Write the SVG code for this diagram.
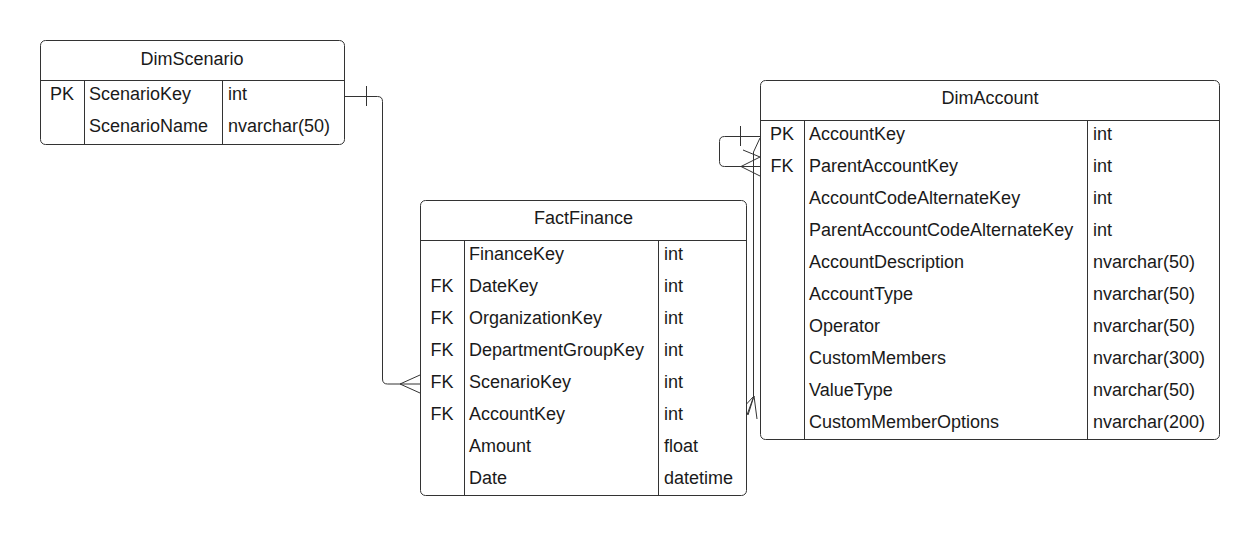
<svg xmlns="http://www.w3.org/2000/svg" width="1260" height="536" viewBox="0 0 1260 536">
<style>
.box{fill:#fff;stroke:#333;stroke-width:1}
.ln{stroke:#333;stroke-width:1;fill:none}
text{font-family:"Liberation Sans",Arial,sans-serif;font-size:18px;fill:#1a1a1a}
.h{text-anchor:middle}
.k{text-anchor:middle}
</style>
<rect width="1260" height="536" fill="#fff"/>
<g id="connectors" class="ln">
  <!-- DimScenario -> FactFinance -->
  <path d="M344.5,96.5 H377.5 Q382.5,96.5 382.5,101.5 V379 Q382.5,384 387.5,384 H420"/>
  <line x1="366.5" y1="86" x2="366.5" y2="106"/>
  <path d="M420,375 L400,384 L420,393"/>
  <!-- DimAccount self reference -->
  <path d="M760,136.5 H724.5 Q719.5,136.5 719.5,141.5 V161.5 Q719.5,166.5 724.5,166.5 H760"/>
  <line x1="740.5" y1="126" x2="740.5" y2="146"/>
  <path d="M760,157 L741,166.5 L760,176"/>
  <!-- FactFinance -> DimAccount -->
  <path d="M747,415 L753.5,397 V152 L760,138"/>
  <line x1="743" y1="150" x2="760" y2="157"/>
  <path d="M740,411 L754,396 L757,419 M754,396 L748,415"/>
</g>
<g id="DimScenario">
  <rect class="box" x="40.5" y="40.5" width="304" height="104" rx="5"/>
  <path class="ln" d="M40.5,80.5 H344.5 M84.5,80.5 V144.5 M222.5,80.5 V144.5"/>
  <text class="h" x="192" y="64.5">DimScenario</text>
  <text class="k" x="62" y="100">PK</text>
  <text x="89" y="100">ScenarioKey</text>
  <text x="228" y="100">int</text>
  <text x="89" y="132">ScenarioName</text>
  <text x="228" y="132">nvarchar(50)</text>
</g>
<g id="FactFinance">
  <rect class="box" x="420.5" y="200.5" width="326" height="295" rx="5"/>
  <path class="ln" d="M420.5,240.5 H746.5 M464.5,240.5 V495.5 M658.5,240.5 V495.5"/>
  <text class="h" x="583.5" y="224">FactFinance</text>
  <text x="469" y="260">FinanceKey</text><text x="664" y="260">int</text>
  <text class="k" x="442" y="292">FK</text><text x="469" y="292">DateKey</text><text x="664" y="292">int</text>
  <text class="k" x="442" y="324">FK</text><text x="469" y="324">OrganizationKey</text><text x="664" y="324">int</text>
  <text class="k" x="442" y="356">FK</text><text x="469" y="356">DepartmentGroupKey</text><text x="664" y="356">int</text>
  <text class="k" x="442" y="388">FK</text><text x="469" y="388">ScenarioKey</text><text x="664" y="388">int</text>
  <text class="k" x="442" y="420">FK</text><text x="469" y="420">AccountKey</text><text x="664" y="420">int</text>
  <text x="469" y="452">Amount</text><text x="664" y="452">float</text>
  <text x="469" y="484">Date</text><text x="664" y="484">datetime</text>
</g>
<g id="DimAccount">
  <rect class="box" x="760.5" y="80.5" width="459" height="359" rx="5"/>
  <path class="ln" d="M760.5,120.5 H1219.5 M804.5,120.5 V439.5 M1087.5,120.5 V439.5"/>
  <text class="h" x="990" y="104">DimAccount</text>
  <text class="k" x="782" y="140">PK</text><text x="809" y="140">AccountKey</text><text x="1093" y="140">int</text>
  <text class="k" x="782" y="172">FK</text><text x="809" y="172">ParentAccountKey</text><text x="1093" y="172">int</text>
  <text x="809" y="204">AccountCodeAlternateKey</text><text x="1093" y="204">int</text>
  <text x="809" y="236">ParentAccountCodeAlternateKey</text><text x="1093" y="236">int</text>
  <text x="809" y="268">AccountDescription</text><text x="1093" y="268">nvarchar(50)</text>
  <text x="809" y="300">AccountType</text><text x="1093" y="300">nvarchar(50)</text>
  <text x="809" y="332">Operator</text><text x="1093" y="332">nvarchar(50)</text>
  <text x="809" y="364">CustomMembers</text><text x="1093" y="364">nvarchar(300)</text>
  <text x="809" y="396">ValueType</text><text x="1093" y="396">nvarchar(50)</text>
  <text x="809" y="428">CustomMemberOptions</text><text x="1093" y="428">nvarchar(200)</text>
</g>
</svg>
